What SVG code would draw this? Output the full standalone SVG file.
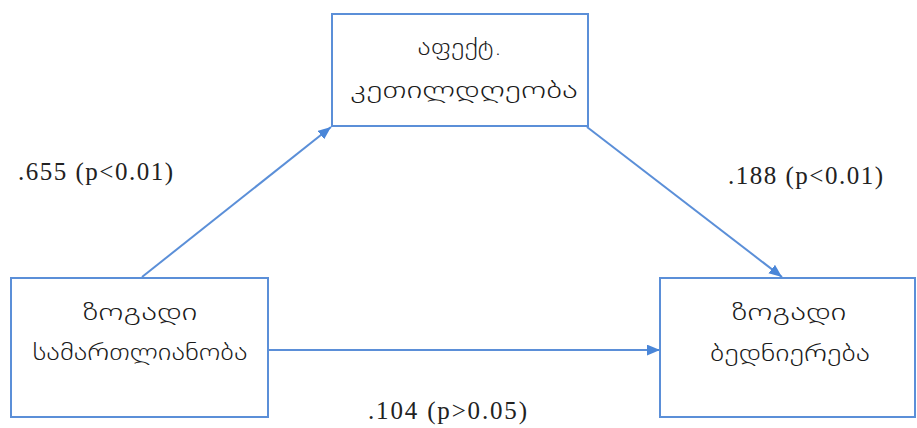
<svg xmlns="http://www.w3.org/2000/svg" width="917" height="428" viewBox="0 0 917 428">
<style>
.box{fill:#fff;stroke:#5B8FD8;stroke-width:2}
.geo{font-family:"DejaVu Sans","Noto Sans",sans-serif;font-size:23px;font-weight:200;fill:#1a1a1a;text-anchor:middle}
.lbl{font-family:"Liberation Serif","Times New Roman",serif;font-size:25px;fill:#222}
.con{stroke:#5B8FD8;stroke-width:2;fill:none}
</style>
<defs>
<marker id="arr" viewBox="0 0 12 10" refX="12" refY="5" markerWidth="13" markerHeight="11" markerUnits="userSpaceOnUse" orient="auto">
<path d="M0,0 L12,5 L0,10 z" fill="#4A86D8"/>
</marker>
</defs>
<rect width="917" height="428" fill="#fff"/>
<g id="connectors">
<line class="con" x1="142" y1="277" x2="331" y2="127" marker-end="url(#arr)"/>
<line class="con" x1="587" y1="127" x2="782" y2="277" marker-end="url(#arr)"/>
<line class="con" x1="268" y1="350" x2="660" y2="350" marker-end="url(#arr)"/>
</g>
<g id="node-affect">
<rect class="box" x="332" y="14" width="256" height="112"/>
<text class="geo" x="460" y="55" textLength="85" lengthAdjust="spacingAndGlyphs">აფექტ.</text>
<text class="geo" x="464" y="98" textLength="228" lengthAdjust="spacingAndGlyphs">კეთილდღეობა</text>
</g>
<g id="node-justice">
<rect class="box" x="11" y="278" width="257" height="139"/>
<text class="geo" x="140" y="320" textLength="115" lengthAdjust="spacingAndGlyphs">ზოგადი</text>
<text class="geo" x="140" y="360" textLength="215" lengthAdjust="spacingAndGlyphs">სამართლიანობა</text>
</g>
<g id="node-happiness">
<rect class="box" x="660" y="278" width="255" height="139"/>
<text class="geo" x="789" y="320" textLength="115" lengthAdjust="spacingAndGlyphs">ზოგადი</text>
<text class="geo" x="790" y="361" textLength="160" lengthAdjust="spacingAndGlyphs">ბედნიერება</text>
</g>
<g id="labels">
<text class="lbl" x="18" y="180" textLength="155" lengthAdjust="spacing">.655 (p&lt;0.01)</text>
<text class="lbl" x="728" y="184" textLength="155" lengthAdjust="spacing">.188 (p&lt;0.01)</text>
<text class="lbl" x="368" y="419" textLength="159" lengthAdjust="spacing">.104 (p&gt;0.05)</text>
</g>
</svg>
